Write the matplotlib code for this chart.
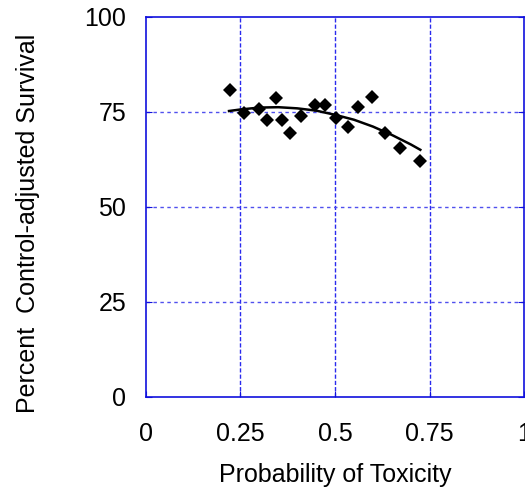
import numpy as np
import matplotlib
matplotlib.use("Agg")
import matplotlib.pyplot as plt

plt.rcParams['font.family'] = ['Liberation Sans', 'DejaVu Sans']

# observed points
prob_tox = [0.222, 0.260, 0.299, 0.319, 0.343, 0.360, 0.380, 0.410, 0.446, 0.474,
            0.502, 0.534, 0.560, 0.597, 0.632, 0.672, 0.723]
survival = [80.7, 74.8, 75.6, 72.8, 78.6, 72.8, 69.4, 73.8, 76.9, 76.9,
            73.3, 71.1, 76.3, 78.8, 69.4, 65.6, 62.1]

# fitted curve
fit_x = [0.22, 0.25, 0.30, 0.35, 0.40, 0.45, 0.50, 0.55, 0.60, 0.65, 0.70, 0.725]
fit_y = [75.2, 75.6, 76.1, 76.2, 75.9, 75.3, 74.2, 72.9, 71.1, 68.9, 66.4, 65.0]

x_ticks = [0, 0.25, 0.5, 0.75, 1]
x_ticklabels = ['0', '0.25', '0.5', '0.75', '1']
y_ticks = [0, 25, 50, 75, 100]

fig = plt.figure(figsize=(5.25, 4.88), dpi=100)
ax = fig.add_axes([0.2775, 0.1865, 0.7215, 0.7793])

ax.plot(fit_x, fit_y, color='black', lw=1.8, zorder=3)
ax.plot(prob_tox, survival, linestyle='none', marker='D', markersize=7,
        markeredgewidth=0, color='black', zorder=4)

ax.set_xlim(0, 1)
ax.set_ylim(0, 100)
ax.set_xticks(x_ticks)
ax.set_xticklabels(x_ticklabels)
ax.set_yticks(y_ticks)

for x in x_ticks[1:-1]:
    ax.axvline(x, color='#2a2aee', lw=1, dashes=(3, 1.5), zorder=1)
for y in y_ticks[1:-1]:
    ax.axhline(y, color='#5050ee', lw=1, dashes=(2.5, 2.5), zorder=1)

for s in ax.spines.values():
    s.set_color('#1111dd')
    s.set_linewidth(1.2)

ax.tick_params(axis='both', direction='in', length=4, color='#1111dd',
               labelsize=18, top=False, right=True)
ax.tick_params(axis='x', pad=18)
ax.tick_params(axis='y', pad=14)

ax.set_xlabel('Probability of Toxicity', fontsize=18, labelpad=12)
ax.set_ylabel('Percent  Control-adjusted Survival', fontsize=18)
ax.yaxis.set_label_coords(-0.279, 0.456)

fig.savefig('out.png', dpi=100)
